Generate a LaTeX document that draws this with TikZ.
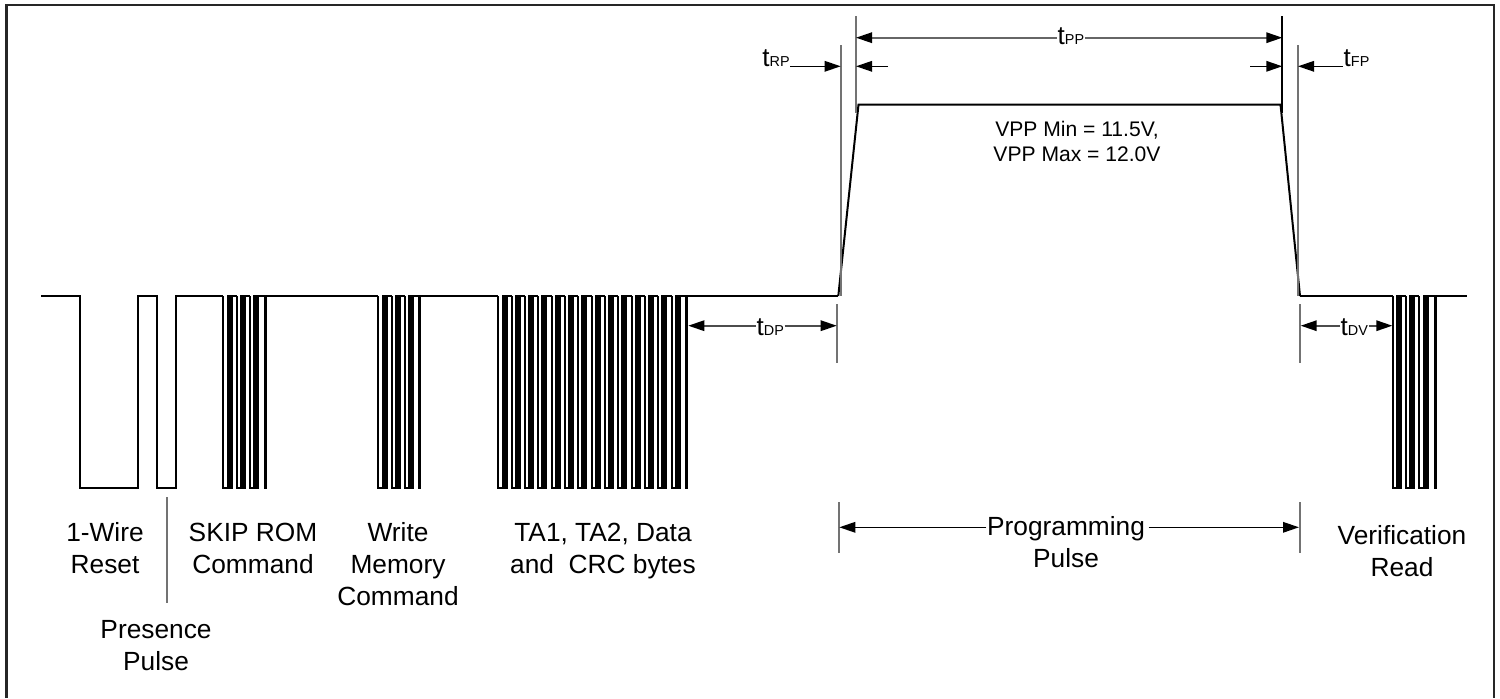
\documentclass[tikz,border=0pt]{standalone}
\usepackage{fontspec}
\setmainfont{Liberation Sans}
\usetikzlibrary{arrows.meta}

\tikzset{
  sig/.style={line width=0.2mm,black,line join=miter},
  ext/.style={line width=0.18mm,black!55},
  tip/.style={line width=0.16mm,black,-{Triangle[length=1.6mm,width=1.05mm,black]}},
  lab/.style={inner sep=0pt,anchor=base,align=center,font=\fontsize{7.48pt}{9.07pt}\selectfont},
  vlab/.style={inner sep=0pt,anchor=base,font=\fontsize{6pt}{7.2pt}\selectfont},
  tlab/.style={inner sep=0pt,anchor=base west,font=\fontsize{7.4pt}{8pt}\selectfont}
}

% one bit of the slot train, high level 296, low level 488.3
\newcommand{\slotbit}[1]{
\draw[sig] (#1,296) -- (#1,488.3) -- ({#1+4.2},488.3) -- ({#1+4.2},296) -- ({#1+6.2},296)
  -- ({#1+6.2},488.3) -- ({#1+8.2},488.3) -- ({#1+8.2},296) -- ({#1+13.33},296);
}
\newcommand{\tsub}[2]{#1{\fontsize{4.1pt}{5pt}\selectfont #2}}

\begin{document}
\begin{tikzpicture}[x=0.1mm,y=-0.1mm]

\useasboundingbox (0,0) rectangle (1500,698);

% frame, no line at the bottom
\draw[line width=0.22mm,black!85] (6.5,698) -- (6.5,5) -- (1494,5) -- (1494,698);

% reset and presence
\draw[sig] (41.3,296) -- (80,296) -- (80,488.3) -- (137.7,488.3) -- (137.7,296) -- (156.7,296)
  -- (156.7,488.3) -- (176,488.3) -- (176,296) -- (223.3,296);

% skip rom
\foreach \t in {223.3,236.63,249.96} {\slotbit{\t}}
\draw[sig] (263.3,296) -- (264.6,296) -- (264.6,488.3) -- (265.6,488.3) -- (265.6,296) -- (378.3,296);

% write memory
\foreach \t in {378.3,391.63,404.96} {\slotbit{\t}}
\draw[sig] (418.3,296) -- (419.3,296) -- (419.3,488.3) -- (420.3,488.3) -- (420.3,296) -- (498.3,296);

% address and data
\foreach \k in {0,...,13} {\slotbit{498.3+\k*13.33}}
\draw[sig] (685,296) -- (686,296) -- (686,488.3) -- (687.3,488.3) -- (687.3,296) -- (838.3,296);

% programming pulse
\draw[sig] (838.3,296) -- (858.5,104.5) -- (1280.5,104.5) -- (1300,296);

% verify
\draw[sig] (1300,296) -- (1392.7,296);
\foreach \t in {1392.7,1406.03,1419.36} {\slotbit{\t}}
\draw[sig] (1432.7,296) -- (1434.5,296) -- (1434.5,488.3) -- (1435.7,488.3) -- (1435.7,296) -- (1467.3,296);

% extension lines
\draw[ext] (840.7,45) -- (840.7,296);
\draw[ext] (856,16) -- (856,113);
\draw[ext,black] (1282.3,16) -- (1282.3,113);
\draw[ext] (1298,45) -- (1298,296);
\draw[ext] (836.7,304) -- (836.7,363);
\draw[ext] (1300,304) -- (1300,363);
\draw[ext] (838.7,502) -- (838.7,553);
\draw[ext] (1300,502) -- (1300,553);
\draw[ext] (166.7,497) -- (166.7,603);

% timing labels
\node[tlab] (tpp) at (1057,44) {\tsub{t}{PP}};
\node[tlab] (trp) at (761.7,66) {\tsub{t}{RP}};
\node[tlab] (tfp) at (1343,66) {\tsub{t}{FP}};
\node[tlab] (tdp) at (756,335) {\tsub{t}{DP}};
\node[tlab] (tdv) at (1340,335) {\tsub{t}{DV}};

\coordinate (ppl) at (856,37.7);
\coordinate (ppr) at (1282.3,37.7);
\coordinate (rpa) at (840.7,66.3);
\coordinate (rpb) at (856,66.3);
\coordinate (rpc) at (888,66.3);
\coordinate (fpa) at (1282.3,66.3);
\coordinate (fpb) at (1250,66.3);
\coordinate (fpc) at (1298,66.3);
\coordinate (dpl) at (688.3,325.7);
\coordinate (dpr) at (836.7,325.7);
\coordinate (dvl) at (1300.7,325.7);
\coordinate (dvr) at (1392.3,325.7);
\coordinate (prl) at (839.3,527.3);
\coordinate (prr) at (1299,527.3);

\draw[tip,black!60] (tpp.west |- ppl) -- (ppl);
\draw[tip,black!60] (tpp.east |- ppr) -- (ppr);
\draw[tip] (trp.east |- rpa) -- (rpa);
\draw[tip] (rpc) -- (rpb);
\draw[tip] (fpb) -- (fpa);
\draw[tip] (tfp.west |- fpc) -- (fpc);
\draw[tip,black!70] (tdp.west |- dpl) -- (dpl);
\draw[tip,black!70] (tdp.east |- dpr) -- (dpr);
\draw[tip,black!70] (tdv.west |- dvl) -- (dvl);
\draw[tip,black!70] (tdv.east |- dvr) -- (dvr);

% texts
\node[vlab] (vmin) at (1077,136) {VPP Min = 11.5V,};
\node[vlab] (vmax) at (1077,161.7) {VPP Max = 12.0V};

\node[lab] (rst) at (105,573.3) {1-Wire\\Reset};
\node[lab] (prs) at (156,670) {Presence\\Pulse};
\node[lab] (skp) at (253,573.3) {SKIP ROM\\Command};
\node[lab] (wrm) at (398,605) {Write\\Memory\\Command};
\node[lab] (tad) at (603,573.3) {TA1, TA2, Data\\and\ \ CRC bytes};
\node[lab] (prg) at (1066,567.7) {Programming\\Pulse};
\node[lab] (ver) at (1402,576) {Verification\\Read};

\draw[tip] (prg.west |- prl) -- (prl);
\draw[tip] (prg.east |- prr) ++(3,0) -- (prr);

\end{tikzpicture}
\end{document}
